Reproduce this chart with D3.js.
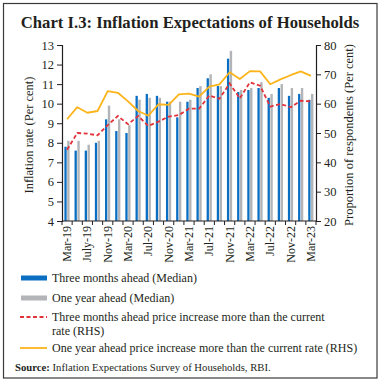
<!DOCTYPE html>
<html><head><meta charset="utf-8">
<script src="https://cdn.jsdelivr.net/npm/d3@7"></script>
<style>body{margin:0;background:#fff}svg{display:block}text{font-family:"Liberation Serif",serif;fill:#231f20}</style>
</head><body>
<script>
const categories = ["Mar-19","May-19","July-19","Sep-19","Nov-19","Jan-20","Mar-20","May-20","Jul-20","Sep-20","Nov-20","Jan-21","Mar-21","May-21","Jul-21","Sep-21","Nov-21","Jan-22","Mar-22","May-22","Jul-22","Sep-22","Nov-22","Jan-23","Mar-23"];
const threeMonthMedian = [7.8,7.6,7.6,8.0,9.2,8.6,8.5,10.4,10.5,10.4,10.1,9.3,10.1,10.8,11.3,10.9,12.3,10.6,10.7,10.8,10.3,10.8,10.4,10.5,10.2];
const oneYearMedian = [8.1,8.1,7.9,8.1,9.9,9.2,8.9,10.2,10.3,10.3,10.1,10.1,10.2,10.9,11.5,10.9,12.7,10.7,10.8,11.1,10.5,11.0,10.8,10.8,10.5];
const threeMonthMore = [44.3,50.0,49.8,49.2,52.7,55.8,53.0,55.8,52.4,53.9,55.6,56.1,58.3,58.3,62.8,61.7,66.9,61.8,67.3,66.1,59.0,59.9,58.8,61.0,60.8];
const oneYearMore = [54.7,58.8,56.9,57.5,64.3,63.7,60.8,57.5,55.9,59.8,59.6,63.2,63.4,62.4,65.8,66.6,70.7,68.4,71.1,71.0,66.6,68.3,69.7,71.0,69.5];
const leftTicks = [4,5,6,7,8,9,10,11,12,13];
const rightTicks = [20,30,40,50,60,70,80];

const W = 381, H = 383;
const svg = d3.select("body").append("svg").attr("width", W).attr("height", H);
svg.append("rect").attr("x",3.5).attr("y",3.5).attr("width",373.5).attr("height",374.5)
  .attr("fill","none").attr("stroke","#3a3a3a").attr("stroke-width",1.2);
svg.append("text").attr("x",190).attr("y",28).attr("text-anchor","middle")
  .attr("font-size",16.7).attr("font-weight","bold").text("Chart I.3: Inflation Expectations of Households");

const L = 62, R = 316, T = 45, B = 221;
const x = d3.scaleBand().domain(categories).range([L, R]).padding(0);
const yL = d3.scaleLinear().domain([4,13]).range([B, T]);
const yR = d3.scaleLinear().domain([20,80]).range([B, T]);
const bw = x.bandwidth();
const cx = d => x(d) + bw/2;

// bars
const g = svg.append("g");
g.selectAll(".b1").data(categories).join("rect")
  .attr("x", d => cx(d) - 2.7).attr("width", 2.3)
  .attr("y", (d,i) => yL(threeMonthMedian[i])).attr("height", (d,i) => B - yL(threeMonthMedian[i]))
  .attr("fill","#0a6fc2");
g.selectAll(".b2").data(categories).join("rect")
  .attr("x", d => cx(d) + 0.1).attr("width", 2.4)
  .attr("y", (d,i) => yL(oneYearMedian[i])).attr("height", (d,i) => B - yL(oneYearMedian[i]))
  .attr("fill","#b2b4b7");

// lines
const lineR = d3.line().x((d,i) => cx(categories[i])).y(d => yR(d));
svg.append("path").datum(oneYearMore).attr("d", lineR).attr("fill","none")
  .attr("stroke","#fcb41c").attr("stroke-width",1.8).attr("stroke-linejoin","round");
svg.append("path").datum(threeMonthMore).attr("d", lineR).attr("fill","none")
  .attr("stroke","#e2323a").attr("stroke-width",1.8).attr("stroke-dasharray","4,2.5");

// axes
const axL = d3.axisLeft(yL).tickValues(leftTicks).tickSize(5).tickPadding(3).tickFormat(d3.format("d"));
const gl = svg.append("g").attr("transform",`translate(${L},0)`).call(axL);
const axR = d3.axisRight(yR).tickValues(rightTicks).tickSize(5).tickPadding(3).tickFormat(d3.format("d"));
const gr = svg.append("g").attr("transform",`translate(${R},0)`).call(axR);
[gl,gr].forEach(a => {
  a.select(".domain").attr("stroke","#231f20").attr("stroke-width",1.2);
  a.selectAll(".tick line").attr("stroke","#231f20");
  a.selectAll(".tick text").attr("font-size",12.5).attr("font-family","Liberation Serif").attr("fill","#231f20");
});
// bottom axis
const ticksX = categories.map(d => x(d)).concat([R]);
const gb = svg.append("g");
gb.append("line").attr("x1",L).attr("x2",R).attr("y1",B).attr("y2",B).attr("stroke","#231f20").attr("stroke-width",1.2);
gb.selectAll("line.t").data(ticksX).join("line").attr("class","t")
  .attr("x1",d=>d).attr("x2",d=>d).attr("y1",B).attr("y2",B+4).attr("stroke","#231f20");
gb.selectAll("text").data(categories.filter((d,i)=>i%2===0)).join("text")
  .attr("transform", d => `translate(${cx(d)+4},${B+5}) rotate(-90)`)
  .attr("text-anchor","end").attr("font-size",12).text(d => d);

// axis titles
svg.append("text").attr("transform",`translate(33,${(T+B)/2+2}) rotate(-90)`).attr("text-anchor","middle")
  .attr("font-size",12.5).text("Inflation rate (Per cent)");
svg.append("text").attr("transform",`translate(353,${(T+B)/2+2}) rotate(-90)`).attr("text-anchor","middle")
  .attr("font-size",12.5).text("Proportion of respondents (Per cent)");

// legend
const lg = svg.append("g");
lg.append("rect").attr("x",21).attr("y",275.5).attr("width",26).attr("height",5).attr("fill","#0a6fc2");
lg.append("text").attr("x",52).attr("y",282).attr("font-size",12).text("Three months ahead (Median)");
lg.append("rect").attr("x",21).attr("y",295.5).attr("width",26).attr("height",5).attr("fill","#b2b4b7");
lg.append("text").attr("x",52).attr("y",302).attr("font-size",12).text("One year ahead (Median)");
lg.append("line").attr("x1",20).attr("x2",47).attr("y1",317).attr("y2",317).attr("stroke","#e2323a")
  .attr("stroke-width",1.8).attr("stroke-dasharray","4,2.5");
lg.append("text").attr("x",52).attr("y",321).attr("font-size",12).text("Three months ahead price increase more than the current");
lg.append("text").attr("x",52).attr("y",335).attr("font-size",12).text("rate (RHS)");
lg.append("line").attr("x1",20).attr("x2",47).attr("y1",348).attr("y2",348).attr("stroke","#fcb41c").attr("stroke-width",1.8);
lg.append("text").attr("x",52).attr("y",352).attr("font-size",12).text("One year ahead price increase more than the current rate (RHS)");
const src = svg.append("text").attr("x",15).attr("y",371).attr("font-size",10.7);
src.append("tspan").attr("font-weight","bold").text("Source:");
src.append("tspan").text(" Inflation Expectations Survey of Households, RBI.");
</script>
</body></html>
